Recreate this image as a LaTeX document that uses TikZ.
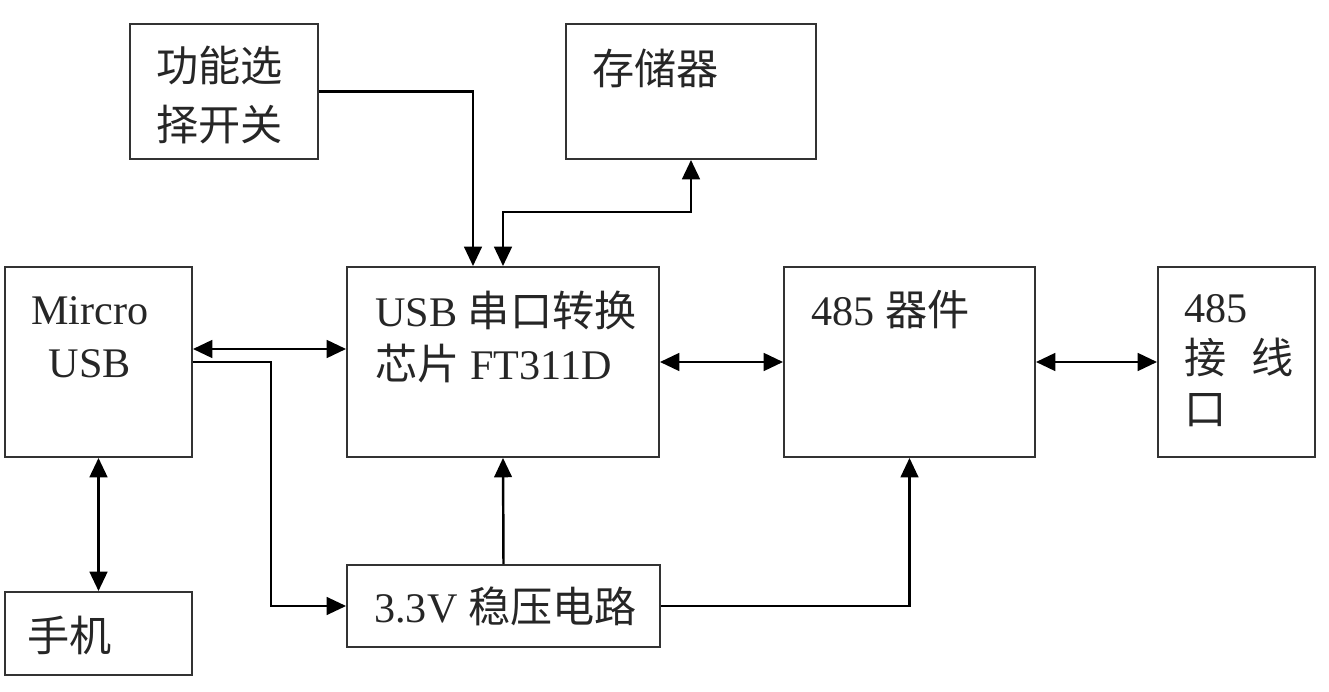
\documentclass[tikz,border=0pt]{standalone}
\usepackage{fontspec}
\setmainfont{Liberation Serif}
\newfontfamily\cjk{Noto Sans CJK SC}
\usepackage{tikz}
\usepackage{xcolor}
\usetikzlibrary{arrows.meta}
\usetikzlibrary{calc}

\begin{document}
\begin{tikzpicture}[x=0.02cm,y=-0.02cm,
	box/.style 2 args={draw=black!80,line width=1.1pt,minimum width=#1,minimum height=#2,inner sep=0pt},
	txt/.style={text=black!85,inner sep=0pt,font=\fontsize{24}{30}\selectfont},
	arr/.style={-{Triangle[length=11pt,width=10pt]},line width=1.4pt},
	both/.style={{Triangle[length=11pt,width=10pt]}-{Triangle[length=11pt,width=10pt]},line width=1.6pt}]
	\useasboundingbox (0,0) rectangle (1329,692);
	% boxes
	\node[box={3.76cm}{2.7cm}] (sw) at (224,91.5) {};
	\node[box={5cm}{2.7cm}] (mem) at (691,91.5) {};
	\node[box={3.74cm}{3.8cm}] (musb) at (98.5,362) {};
	\node[box={6.24cm}{3.8cm}] (chip) at (503,362) {};
	\node[box={5.02cm}{3.8cm}] (dev) at (909.5,362) {};
	\node[box={3.14cm}{3.8cm}] (port) at (1236.5,362) {};
	\node[box={3.74cm}{1.66cm}] (phone) at (98.5,633.5) {};
	\node[box={6.26cm}{1.64cm}] (reg) at (503.5,606) {};
	% texts
	\node[txt,anchor=west,align=left,font=\fontsize{24}{34}\selectfont] (swtxt) at (156,95) {{\cjk 功能选}\\{\cjk 择开关}};
	\node[txt,anchor=west] (memtxt) at (592,68) {\cjk 存储器};
	\node[txt,align=center] (musbtxt) at (90,337) {Mircro\\USB};
	\node[txt,anchor=west,align=left] (chiptxt) at (375,337) {USB {\cjk 串口转换}\\{\cjk 芯片} FT311D};
	\node[txt,anchor=west] (devtxt) at (811,310) {485 {\cjk 器件}};
	\node[txt,anchor=west,align=left,font=\fontsize{24}{29}\selectfont] (porttxt) at (1184,361) {485\\{\cjk 接}\hspace{0.6em}{\cjk 线}\\{\cjk 口}};
	\node[txt,anchor=west] (phonetxt) at (27,635) {\cjk 手机};
	\node[txt,anchor=west] (regtxt) at (374,606) {3.3V {\cjk 稳压电路}};
	% connectors
	\draw[arr] (sw.east) -| ($(chip.north)+(-30,0)$);
	\draw[both] (chip.north) -- ++(0,-54) -| (mem.south);
	\draw[both] ($(musb.east)+(0,-13)$) -- ($(chip.west)+(0,-13)$);
	\draw[arr] (musb.east) -- ++(78,0) |- (reg.west);
	\draw[both] (musb.south) -- (phone.north);
	\draw[arr] (reg.north) -- (chip.south);
	\draw[both] (chip.east) -- (dev.west);
	\draw[both] (dev.east) -- (port.west);
	\draw[arr] (reg.east) -| (dev.south);
\end{tikzpicture}
\end{document}
